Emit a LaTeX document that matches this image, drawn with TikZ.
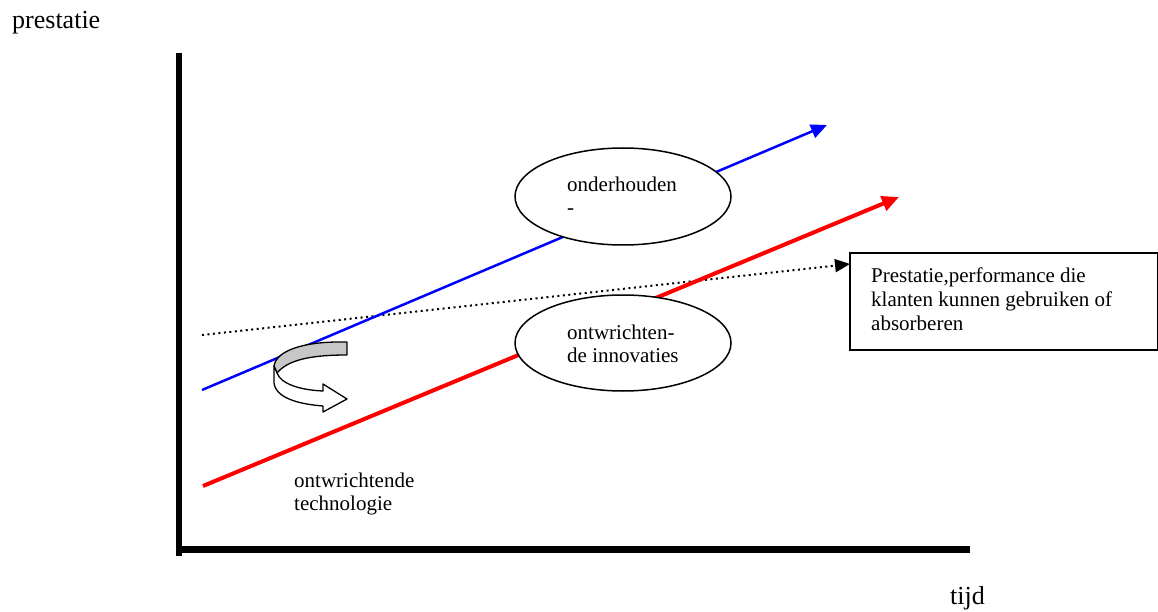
\documentclass[tikz,border=0pt]{standalone}
\usepackage{fontspec}
\setmainfont{Liberation Serif}
\usetikzlibrary{arrows.meta,shapes.geometric}
\begin{document}
\begin{tikzpicture}[x=1pt,y=-1pt,
  lbl/.style={anchor=base west, inner sep=0pt, font=\fontsize{21}{24}\selectfont},
  axislbl/.style={anchor=base west, inner sep=0pt, font=\fontsize{26}{30}\selectfont},
  axisline/.style={line cap=butt, black},
  bubble/.style={ellipse, draw, fill=white, line width=1.5pt,
    minimum width=216pt, minimum height=97pt, inner sep=0pt},
  trend/.style={line width=#1, -{Triangle[length=16pt,width=14pt]}},
  limit/.style={line width=2pt, dash pattern=on 2pt off 3.5pt,
    -{Triangle[length=15pt,width=13pt]}},
  infobox/.style={draw, line width=1.5pt, anchor=north west, inner sep=0pt,
    minimum width=308pt, minimum height=97pt},
  turnarrow/.style={draw=black, line width=1.3pt, line join=round}
]
\useasboundingbox (0,0) rectangle (1158,612);

% axis labels
\node[axislbl] (ylabel) at (12,29) {prestatie};
\node[axislbl] (xlabel) at (950,604) {tijd};

% axes
\coordinate (ytop) at (179,53);
\coordinate (ybot) at (179,556);
\coordinate (xleft) at (176,549.5);
\coordinate (xright) at (970,549.5);
\draw[axisline, line width=6pt] (ytop) -- (ybot);
\draw[axisline, line width=7pt] (xleft) -- (xright);

% performance the customers can absorb
\coordinate (d0) at (202,335);
\coordinate (d1) at (850,264);
\draw[limit] (d0) -- (d1);

% sustaining and disruptive trajectories
\coordinate (b0) at (202,390);
\coordinate (b1) at (827,125);
\draw[trend=2.5pt, blue] (b0) -- (b1);
\coordinate (r0) at (203,486);
\coordinate (r1) at (899,197);
\draw[trend=4pt, red, -{Triangle[length=17pt,width=15pt]}] (r0) -- (r1);

% labelled ellipses
\node[bubble] (e1) at (623,196.5) {};
\node[lbl] (e1a) at (567,192) {onderhouden};
\node[lbl] (e1b) at (567,215) {-};

\node[bubble, minimum height=96pt] (e2) at (623,343) {};
\node[lbl] (e2a) at (567,339) {ontwrichten-};
\node[lbl] (e2b) at (567,362) {de innovaties};

% text box
\node[infobox] (box) at (849,252) {};
\node[lbl] (boxa) at (871,282) {Prestatie,performance die};
\node[lbl] (boxb) at (871,306) {klanten kunnen gebruiken of};
\node[lbl] (boxc) at (871,330) {absorberen};

% label below the red line
\node[lbl] (techa) at (294,487) {ontwrichtende};
\node[lbl] (techb) at (294,510) {technologie};

% curved turning arrow
\path[turnarrow, fill=black!22]
  (347,342) .. controls (300,341) and (276,352) .. (274,366)
  -- (277,373) .. controls (288,360) and (310,355) .. (347,355) -- cycle;
\path[turnarrow, fill=white]
  (274,366) -- (274,383) .. controls (276,398) and (298,404) .. (323,406)
  -- (323,412) -- (347,399) -- (323,384) -- (323,391)
  .. controls (300,390) and (281,384) .. (277,373) -- cycle;
\end{tikzpicture}
\end{document}
